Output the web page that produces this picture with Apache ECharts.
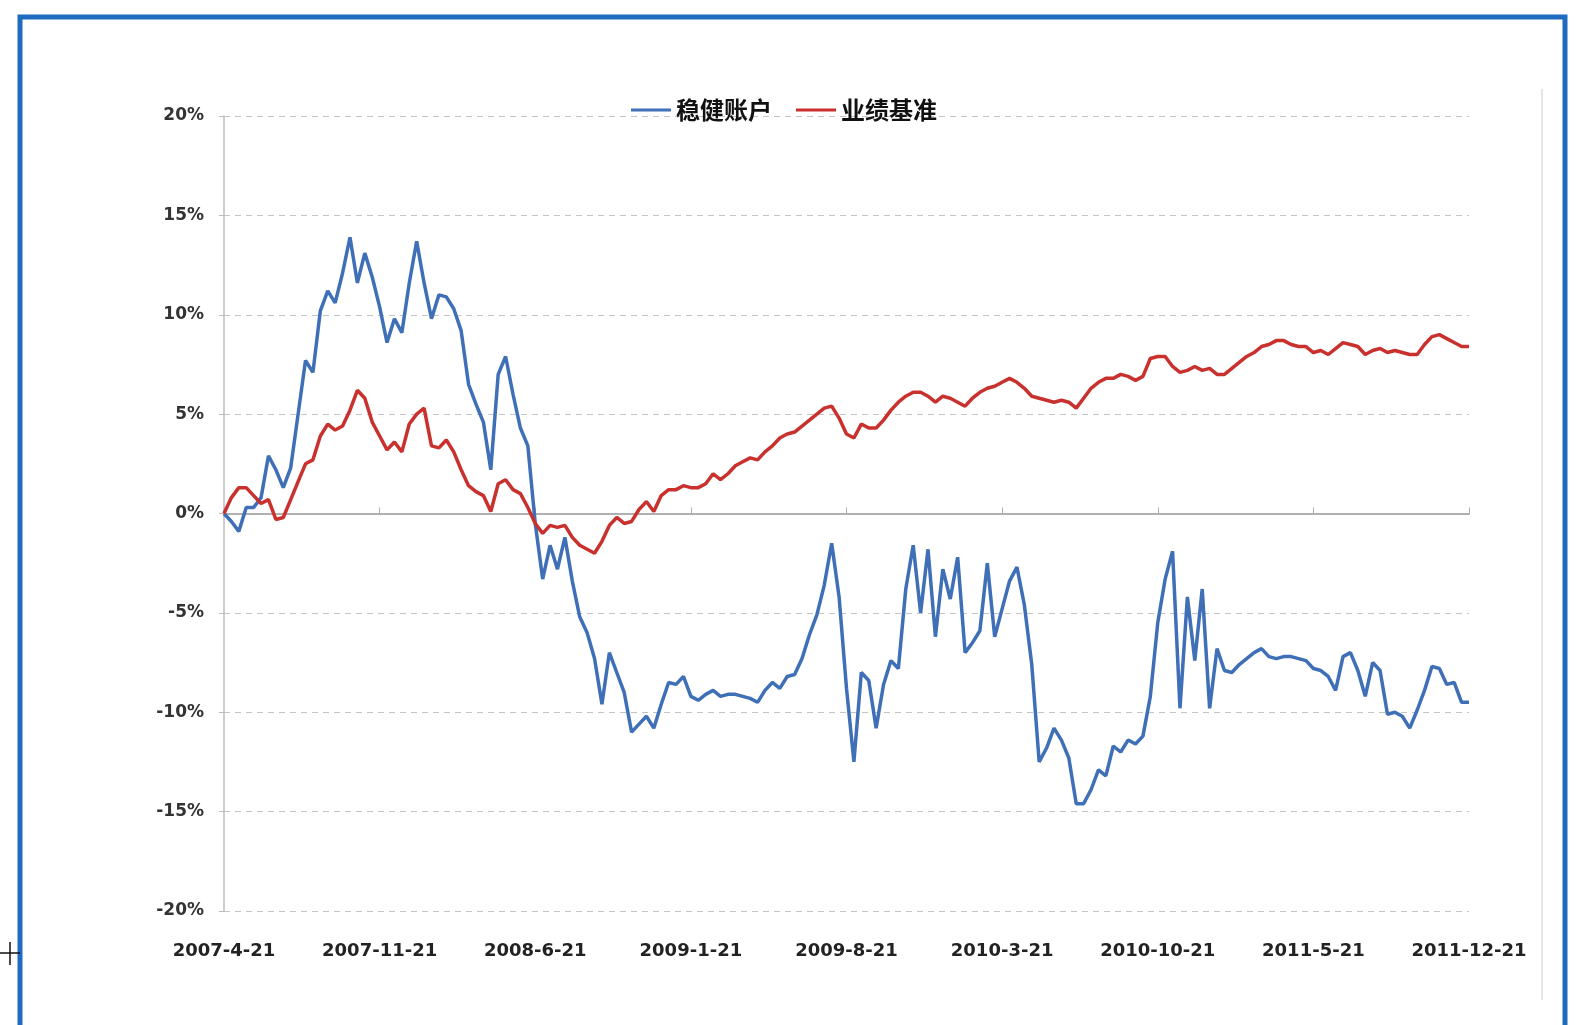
<!DOCTYPE html>
<html><head><meta charset="utf-8">
<script src="https://cdn.jsdelivr.net/npm/echarts@6/dist/echarts.min.js"></script>
<style>html,body{margin:0;padding:0;background:#fff;}#c{width:1582px;height:1025px;}</style>
</head><body><div id="c"></div>
<script>
const categories = [
"2007-4-21","2007-5-1","2007-5-11","2007-5-21","2007-6-1","2007-6-11","2007-6-21","2007-7-1","2007-7-11","2007-7-21","2007-8-1","2007-8-11","2007-8-21","2007-9-1","2007-9-11","2007-9-21","2007-10-1","2007-10-11","2007-10-21","2007-11-1","2007-11-11","2007-11-21","2007-12-1","2007-12-11","2007-12-21",
"2008-1-1","2008-1-11","2008-1-21","2008-2-1","2008-2-11","2008-2-21","2008-3-1","2008-3-11","2008-3-21","2008-4-1","2008-4-11","2008-4-21","2008-5-1","2008-5-11","2008-5-21","2008-6-1","2008-6-11","2008-6-21","2008-7-1","2008-7-11","2008-7-21","2008-8-1","2008-8-11","2008-8-21","2008-9-1","2008-9-11","2008-9-21","2008-10-1","2008-10-11","2008-10-21","2008-11-1","2008-11-11","2008-11-21","2008-12-1","2008-12-11","2008-12-21",
"2009-1-1","2009-1-11","2009-1-21","2009-2-1","2009-2-11","2009-2-21","2009-3-1","2009-3-11","2009-3-21","2009-4-1","2009-4-11","2009-4-21","2009-5-1","2009-5-11","2009-5-21","2009-6-1","2009-6-11","2009-6-21","2009-7-1","2009-7-11","2009-7-21","2009-8-1","2009-8-11","2009-8-21","2009-9-1","2009-9-11","2009-9-21","2009-10-1","2009-10-11","2009-10-21","2009-11-1","2009-11-11","2009-11-21","2009-12-1","2009-12-11","2009-12-21",
"2010-1-1","2010-1-11","2010-1-21","2010-2-1","2010-2-11","2010-2-21","2010-3-1","2010-3-11","2010-3-21","2010-4-1","2010-4-11","2010-4-21","2010-5-1","2010-5-11","2010-5-21","2010-6-1","2010-6-11","2010-6-21","2010-7-1","2010-7-11","2010-7-21","2010-8-1","2010-8-11","2010-8-21","2010-9-1","2010-9-11","2010-9-21","2010-10-1","2010-10-11","2010-10-21","2010-11-1","2010-11-11","2010-11-21","2010-12-1","2010-12-11","2010-12-21",
"2011-1-1","2011-1-11","2011-1-21","2011-2-1","2011-2-11","2011-2-21","2011-3-1","2011-3-11","2011-3-21","2011-4-1","2011-4-11","2011-4-21","2011-5-1","2011-5-11","2011-5-21","2011-6-1","2011-6-11","2011-6-21","2011-7-1","2011-7-11","2011-7-21","2011-8-1","2011-8-11","2011-8-21","2011-9-1","2011-9-11","2011-9-21","2011-10-1","2011-10-11","2011-10-21","2011-11-1","2011-11-11","2011-11-21","2011-12-1","2011-12-11","2011-12-21"
];

const seriesNames = ["稳健账户", "业绩基准"];

const steadyAccount = [
0,-0.4,-0.9,0.3,0.3,0.8,2.9,2.2,1.3,2.3,
5.0,7.7,7.1,10.2,11.2,10.6,12.1,13.9,11.6,13.1,
11.9,10.4,8.6,9.8,9.1,11.6,13.7,11.6,9.8,11.0,
10.9,10.3,9.2,6.5,5.5,4.6,2.2,7.0,7.9,6.0,
4.3,3.4,-0.5,-3.3,-1.6,-2.8,-1.2,-3.4,-5.2,-6.0,
-7.3,-9.6,-7.0,-8.0,-9.0,-11.0,-10.6,-10.2,-10.8,-9.6,
-8.5,-8.6,-8.2,-9.2,-9.4,-9.1,-8.9,-9.2,-9.1,-9.1,
-9.2,-9.3,-9.5,-8.9,-8.5,-8.8,-8.2,-8.1,-7.3,-6.1,
-5.1,-3.6,-1.5,-4.2,-8.8,-12.5,-8.0,-8.4,-10.8,-8.6,
-7.4,-7.8,-3.8,-1.6,-5.0,-1.8,-6.2,-2.8,-4.3,-2.2,
-7.0,-6.5,-5.9,-2.5,-6.2,-4.8,-3.4,-2.7,-4.6,-7.6,
-12.5,-11.8,-10.8,-11.4,-12.3,-14.6,-14.6,-13.9,-12.9,-13.2,
-11.7,-12.0,-11.4,-11.6,-11.2,-9.2,-5.5,-3.3,-1.9,-9.8,
-4.2,-7.4,-3.8,-9.8,-6.8,-7.9,-8.0,-7.6,-7.3,-7.0,
-6.8,-7.2,-7.3,-7.2,-7.2,-7.3,-7.4,-7.8,-7.9,-8.2,
-8.9,-7.2,-7.0,-7.9,-9.2,-7.5,-7.9,-10.1,-10.0,-10.2,
-10.8,-9.9,-8.9,-7.7,-7.8,-8.6,-8.5,-9.5,-9.5
];

const benchmark = [
0,0.8,1.3,1.3,0.9,0.5,0.7,-0.3,-0.2,0.7,
1.6,2.5,2.7,3.9,4.5,4.2,4.4,5.2,6.2,5.8,
4.6,3.9,3.2,3.6,3.1,4.5,5.0,5.3,3.4,3.3,
3.7,3.1,2.2,1.4,1.1,0.9,0.1,1.5,1.7,1.2,
1.0,0.3,-0.5,-1.0,-0.6,-0.7,-0.6,-1.2,-1.6,-1.8,
-2.0,-1.4,-0.6,-0.2,-0.5,-0.4,0.2,0.6,0.1,0.9,
1.2,1.2,1.4,1.3,1.3,1.5,2.0,1.7,2.0,2.4,
2.6,2.8,2.7,3.1,3.4,3.8,4.0,4.1,4.4,4.7,
5.0,5.3,5.4,4.8,4.0,3.8,4.5,4.3,4.3,4.7,
5.2,5.6,5.9,6.1,6.1,5.9,5.6,5.9,5.8,5.6,
5.4,5.8,6.1,6.3,6.4,6.6,6.8,6.6,6.3,5.9,
5.8,5.7,5.6,5.7,5.6,5.3,5.8,6.3,6.6,6.8,
6.8,7.0,6.9,6.7,6.9,7.8,7.9,7.9,7.4,7.1,
7.2,7.4,7.2,7.3,7.0,7.0,7.3,7.6,7.9,8.1,
8.4,8.5,8.7,8.7,8.5,8.4,8.4,8.1,8.2,8.0,
8.3,8.6,8.5,8.4,8.0,8.2,8.3,8.1,8.2,8.1,
8.0,8.0,8.5,8.9,9.0,8.8,8.6,8.4,8.4
];

const yTicks = { min: -20, max: 20, step: 5 };
const labelEvery = 21;

const chart = echarts.init(document.getElementById('c'), null, { renderer: 'canvas' });
const labelFont = 'DejaVu Sans';
chart.setOption({
  animation: false,
  backgroundColor: '#ffffff',
  color: ['#3e6fb7', '#c8312d'],
  legend: {
    data: seriesNames,
    left: 626, top: 93,
    icon: 'rect', itemWidth: 40, itemHeight: 3, itemGap: 24,
    textStyle: { fontFamily: 'Noto Sans CJK SC', fontWeight: 'bold', fontSize: 24, color: '#111' }
  },
  grid: { left: 224, right: 113, top: 116, bottom: 114, containLabel: false },
  xAxis: [{
    type: 'category', data: categories, boundaryGap: false,
    axisLine: { show: false, onZero: false },
    axisTick: { show: false },
    axisLabel: { interval: labelEvery - 1, margin: 31, fontFamily: labelFont, fontWeight: 'bold', fontSize: 18, color: '#222' },
    splitLine: { show: false }
  }, {
    type: 'category', data: categories, boundaryGap: false, position: 'bottom',
    axisLine: { show: true, onZero: true, lineStyle: { color: '#b0b0b0', width: 2 } },
    axisTick: { show: true, inside: true, length: 6, interval: labelEvery - 1, lineStyle: { color: '#b0b0b0' } },
    axisLabel: { show: false },
    splitLine: { show: false }
  }],
  yAxis: {
    type: 'value', min: yTicks.min, max: yTicks.max, interval: yTicks.step,
    axisLine: { show: true, lineStyle: { color: '#bdbdbd', width: 1.5 } },
    axisTick: { show: true, length: 5, lineStyle: { color: '#bdbdbd' } },
    axisLabel: { formatter: '{value}%', margin: 20, fontFamily: labelFont, fontWeight: 'bold', fontSize: 17, color: '#333' },
    splitLine: { show: true, lineStyle: { color: '#c4c4c4', width: 1, type: [6, 5] } }
  },
  series: [{
    name: seriesNames[0], type: 'line', data: steadyAccount, xAxisIndex: 0,
    showSymbol: false, symbol: 'none', lineStyle: { width: 3.5 }
  }, {
    name: seriesNames[1], type: 'line', data: benchmark, xAxisIndex: 0,
    showSymbol: false, symbol: 'none', lineStyle: { width: 3.5 }
  }],
  graphic: [
    { type: 'rect', silent: true, shape: { x: 20, y: 17, width: 1545, height: 1040 }, style: { fill: 'none', stroke: '#1d6cbf', lineWidth: 5 } },
    { type: 'line', silent: true, shape: { x1: 1542, y1: 89, x2: 1542, y2: 1000 }, style: { stroke: '#dcdcdc', lineWidth: 1.5 } },
    { type: 'line', silent: true, shape: { x1: 0, y1: 953, x2: 20, y2: 953 }, style: { stroke: '#111', lineWidth: 1.5 } },
    { type: 'line', silent: true, shape: { x1: 10, y1: 942, x2: 10, y2: 965 }, style: { stroke: '#111', lineWidth: 1.5 } }
  ]
});
</script></body></html>
